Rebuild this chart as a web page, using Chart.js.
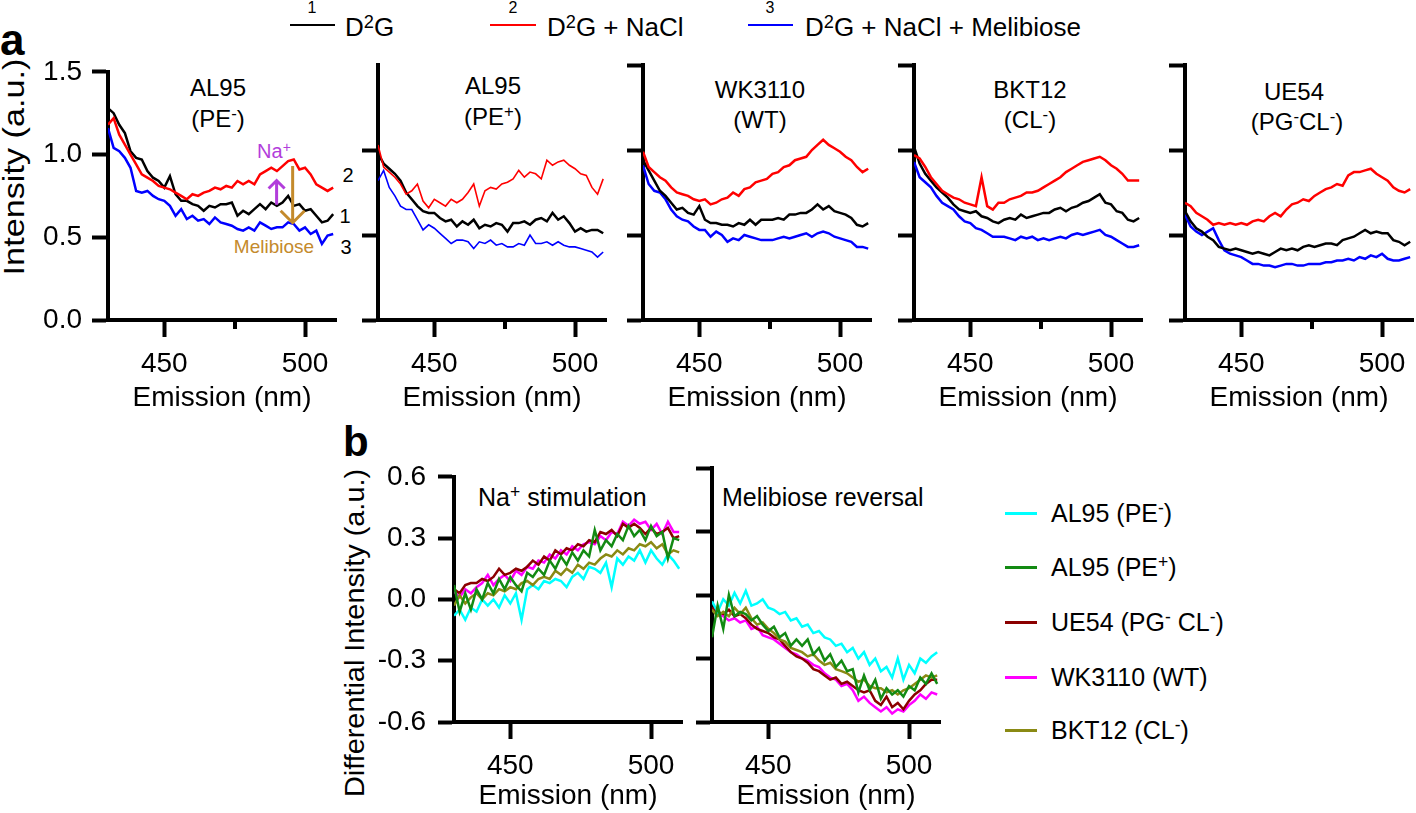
<!DOCTYPE html>
<html>
<head>
<meta charset="utf-8">
<script src="https://cdn.jsdelivr.net/npm/chart.js@4"></script>
<style>
  body { margin: 0; width: 1416px; height: 813px; position: relative; overflow: hidden; background: #fff;
         font-family: "Liberation Sans", Arial, Helvetica, sans-serif; color: #000; }
  canvas { position: absolute; }
  .t { position: absolute; white-space: nowrap; line-height: 1; }
  .c { transform: translate(-50%, -50%); }
  .m { transform: translateY(-50%); }
  .bold { font-weight: bold; }
  .ln { position: absolute; }
  sup { font-size: 0.7em; vertical-align: 0.45em; line-height: 0; }
</style>
</head>
<body>

<div class="t bold" style="left:0px;top:18px;font-size:44px">a</div>
<div class="t bold" style="left:343px;top:421px;font-size:42px">b</div>

<!-- top legend -->
<div class="t c" style="left:312px;top:8px;font-size:16px">1</div>
<div class="ln" style="left:290px;top:24px;width:45px;height:2px;background:#000"></div>
<div class="t m" style="left:345px;top:27px;font-size:26px">D<sup>2</sup>G</div>
<div class="t c" style="left:513px;top:8px;font-size:16px">2</div>
<div class="ln" style="left:490px;top:24px;width:46px;height:2px;background:#f00"></div>
<div class="t m" style="left:547px;top:27px;font-size:26px">D<sup>2</sup>G + NaCl</div>
<div class="t c" style="left:770px;top:8px;font-size:16px">3</div>
<div class="ln" style="left:748px;top:24px;width:45px;height:2px;background:#00f"></div>
<div class="t m" style="left:805px;top:27px;font-size:26px">D<sup>2</sup>G + NaCl + Melibiose</div>

<!-- y titles -->
<div class="t" style="left:14px;top:167px;font-size:29px;transform:translate(-50%,-50%) rotate(-90deg) scaleX(1.18)">Intensity (a.u.)</div>
<div class="t" style="left:355px;top:633px;font-size:28px;transform:translate(-50%,-50%) rotate(-90deg) scaleX(1.03)">Differential Intensity (a.u.)</div>

<!-- panel titles -->
<div class="t c" style="left:218px;top:88px;font-size:24px">AL95</div>
<div class="t c" style="left:218px;top:119px;font-size:24px">(PE<sup>-</sup>)</div>
<div class="t c" style="left:493px;top:86px;font-size:24px">AL95</div>
<div class="t c" style="left:493px;top:117px;font-size:24px">(PE<sup>+</sup>)</div>
<div class="t c" style="left:760px;top:90px;font-size:24px">WK3110</div>
<div class="t c" style="left:760px;top:120px;font-size:24px">(WT)</div>
<div class="t c" style="left:1030px;top:90px;font-size:24px">BKT12</div>
<div class="t c" style="left:1030px;top:120px;font-size:24px">(CL<sup>-</sup>)</div>
<div class="t c" style="left:1294px;top:92px;font-size:24px">UE54</div>
<div class="t c" style="left:1297px;top:122px;font-size:24px">(PG<sup>-</sup>CL<sup>-</sup>)</div>

<!-- panel a1 annotations -->
<div class="t c" style="left:274px;top:151px;font-size:20px;color:#b23ddb">Na<sup>+</sup></div>
<div class="t c" style="left:274px;top:246px;font-size:19px;color:#c48a2c">Melibiose</div>
<div class="t c" style="left:348px;top:175px;font-size:20px">2</div>
<div class="t c" style="left:345px;top:216px;font-size:20px">1</div>
<div class="t c" style="left:346px;top:247px;font-size:20px">3</div>

<!-- panel b titles -->
<div class="t m" style="left:478px;top:497px;font-size:25px">Na<sup>+</sup> stimulation</div>
<div class="t m" style="left:722px;top:497px;font-size:25px">Melibiose reversal</div>

<!-- panel b legend -->
<div class="ln" style="left:1005px;top:512px;width:32px;height:3px;background:#00ffff"></div>
<div class="t m" style="left:1051px;top:513px;font-size:25px">AL95 (PE<sup>-</sup>)</div>
<div class="ln" style="left:1005px;top:566px;width:32px;height:3px;background:#138a13"></div>
<div class="t m" style="left:1051px;top:567px;font-size:25px">AL95 (PE<sup>+</sup>)</div>
<div class="ln" style="left:1005px;top:621px;width:32px;height:3px;background:#8b0000"></div>
<div class="t m" style="left:1051px;top:622px;font-size:25px">UE54 (PG<sup>-</sup> CL<sup>-</sup>)</div>
<div class="ln" style="left:1005px;top:676px;width:32px;height:3px;background:#ff00ff"></div>
<div class="t m" style="left:1051px;top:677px;font-size:25px">WK3110 (WT)</div>
<div class="ln" style="left:1005px;top:729px;width:32px;height:3px;background:#8a8a14"></div>
<div class="t m" style="left:1051px;top:730px;font-size:25px">BKT12 (CL<sup>-</sup>)</div>

<script>
// emission wavelengths (nm)
const nm = [430,432,434,436,438,440,442,444,446,448,450,452,454,456,458,460,462,464,466,468,
            470,472,474,476,478,480,482,484,486,488,490,492,494,496,498,500,502,504,506,508,510];

// panel a: intensity, 1 = D2G (black), 2 = + NaCl (red), 3 = + NaCl + melibiose (blue)
// AL95 (PE-)
const a1Black = [1.28,1.25,1.18,1.13,1.02,0.98,0.97,0.90,0.86,0.84,0.80,0.87,0.76,0.72,0.72,0.70,0.69,0.66,0.69,0.68,
                 0.70,0.70,0.71,0.63,0.66,0.64,0.67,0.70,0.67,0.71,0.69,0.71,0.75,0.69,0.70,0.66,0.67,0.63,0.59,0.60,0.64];
const a1Red   = [1.18,1.22,1.12,1.06,1.00,0.94,0.88,0.86,0.84,0.81,0.80,0.79,0.77,0.75,0.73,0.76,0.75,0.77,0.78,0.80,
                 0.79,0.81,0.80,0.84,0.82,0.84,0.82,0.88,0.90,0.92,0.90,0.93,0.96,0.97,0.91,0.92,0.88,0.82,0.80,0.78,0.80];
const a1Blue  = [1.16,1.04,1.02,0.98,0.92,0.78,0.77,0.78,0.75,0.73,0.72,0.69,0.63,0.67,0.61,0.63,0.60,0.61,0.58,0.62,
                 0.59,0.58,0.57,0.55,0.54,0.56,0.54,0.59,0.57,0.55,0.56,0.56,0.59,0.58,0.54,0.56,0.52,0.54,0.46,0.51,0.52];
// AL95 (PE+)
const a2Black = [0.98,0.92,0.89,0.86,0.82,0.75,0.71,0.67,0.64,0.63,0.63,0.60,0.58,0.59,0.55,0.58,0.56,0.59,0.54,0.56,
                 0.55,0.57,0.56,0.52,0.57,0.57,0.58,0.56,0.59,0.60,0.58,0.63,0.59,0.61,0.57,0.52,0.54,0.52,0.53,0.53,0.51];
const a2Red   = [1.03,0.90,0.87,0.84,0.80,0.74,0.76,0.80,0.70,0.66,0.71,0.69,0.67,0.71,0.69,0.71,0.75,0.80,0.67,0.76,
                 0.78,0.77,0.80,0.81,0.83,0.88,0.84,0.87,0.86,0.83,0.94,0.91,0.93,0.94,0.91,0.89,0.86,0.85,0.78,0.74,0.83];
const a2Blue  = [0.82,0.88,0.78,0.73,0.67,0.65,0.65,0.59,0.53,0.56,0.54,0.51,0.48,0.45,0.47,0.47,0.46,0.42,0.46,0.45,
                 0.47,0.44,0.45,0.43,0.43,0.45,0.44,0.50,0.45,0.45,0.46,0.44,0.46,0.44,0.43,0.43,0.42,0.41,0.40,0.37,0.40];
// WK3110 (WT)
const a3Black = [0.94,0.88,0.82,0.76,0.73,0.69,0.65,0.66,0.63,0.62,0.67,0.59,0.57,0.57,0.56,0.56,0.55,0.57,0.56,0.59,
                 0.56,0.59,0.59,0.59,0.60,0.59,0.62,0.62,0.63,0.63,0.65,0.68,0.65,0.67,0.64,0.63,0.62,0.60,0.56,0.55,0.57];
const a3Red   = [0.99,0.90,0.87,0.84,0.82,0.78,0.75,0.74,0.73,0.71,0.70,0.71,0.68,0.69,0.71,0.72,0.75,0.73,0.77,0.78,
                 0.81,0.82,0.83,0.86,0.87,0.90,0.91,0.94,0.95,0.96,1.00,1.03,1.06,1.03,1.01,0.99,0.96,0.94,0.90,0.87,0.89];
const a3Blue  = [0.91,0.80,0.76,0.75,0.71,0.65,0.61,0.59,0.58,0.55,0.53,0.53,0.49,0.52,0.50,0.46,0.48,0.47,0.50,0.49,
                 0.48,0.47,0.47,0.47,0.48,0.49,0.48,0.49,0.50,0.51,0.49,0.51,0.52,0.51,0.49,0.48,0.47,0.46,0.43,0.43,0.42];
// BKT12 (CL-)
const a4Black = [1.02,0.92,0.86,0.82,0.78,0.75,0.72,0.68,0.65,0.64,0.63,0.64,0.61,0.60,0.58,0.57,0.59,0.60,0.59,0.62,
                 0.60,0.61,0.62,0.63,0.63,0.65,0.66,0.64,0.66,0.67,0.69,0.70,0.72,0.74,0.69,0.68,0.64,0.63,0.59,0.58,0.60];
const a4Red   = [0.97,0.95,0.90,0.84,0.80,0.76,0.74,0.72,0.71,0.69,0.68,0.67,0.84,0.67,0.65,0.69,0.69,0.71,0.72,0.73,
                 0.75,0.75,0.76,0.78,0.80,0.82,0.84,0.87,0.89,0.91,0.93,0.94,0.95,0.96,0.94,0.91,0.89,0.86,0.82,0.82,0.82];
const a4Blue  = [0.93,0.84,0.81,0.78,0.73,0.69,0.67,0.65,0.61,0.58,0.57,0.54,0.53,0.51,0.49,0.49,0.49,0.48,0.47,0.49,
                 0.48,0.49,0.47,0.48,0.47,0.48,0.49,0.48,0.50,0.51,0.50,0.51,0.52,0.53,0.50,0.49,0.47,0.45,0.43,0.43,0.44];
// UE54 (PG-CL-)
const a5Black = [0.64,0.58,0.54,0.52,0.49,0.47,0.43,0.42,0.41,0.42,0.41,0.40,0.39,0.40,0.39,0.38,0.40,0.42,0.41,0.42,
                 0.41,0.43,0.44,0.43,0.44,0.45,0.45,0.44,0.47,0.48,0.49,0.51,0.53,0.51,0.52,0.51,0.51,0.47,0.46,0.44,0.46];
const a5Red   = [0.69,0.67,0.63,0.61,0.59,0.56,0.57,0.56,0.57,0.56,0.57,0.56,0.58,0.59,0.58,0.61,0.63,0.61,0.65,0.68,
                 0.69,0.71,0.70,0.73,0.75,0.77,0.78,0.80,0.79,0.85,0.87,0.87,0.88,0.89,0.86,0.84,0.82,0.78,0.76,0.75,0.77];
const a5Blue  = [0.62,0.55,0.52,0.50,0.52,0.54,0.47,0.41,0.39,0.38,0.37,0.35,0.33,0.33,0.32,0.32,0.31,0.32,0.33,0.33,
                 0.32,0.32,0.33,0.33,0.33,0.34,0.34,0.35,0.35,0.36,0.35,0.37,0.36,0.38,0.37,0.39,0.36,0.35,0.35,0.36,0.37];

// panel b: differential intensity, Na+ stimulation
const b1PEminus = [-0.08,-0.05,-0.10,-0.04,-0.06,0.00,-0.03,0.00,-0.04,0.02,-0.02,0.03,-0.10,0.05,0.07,0.05,0.09,0.08,0.10,0.09,
                   0.06,0.11,0.13,0.10,0.16,0.15,0.13,0.18,0.06,0.20,0.17,0.21,0.19,0.24,0.18,0.24,0.20,0.17,0.22,0.19,0.15];
const b1PEplus  = [0.07,-0.06,0.03,-0.05,0.05,0.00,0.08,0.03,0.10,0.05,0.11,0.07,0.04,0.13,0.11,0.15,0.12,0.19,0.15,0.21,
                   0.17,0.23,0.19,0.24,0.21,0.34,0.24,0.29,0.26,0.32,0.29,0.36,0.31,0.34,0.29,0.36,0.31,0.33,0.20,0.30,0.29];
const b1UE54    = [0.05,0.03,0.07,0.08,0.08,0.10,0.09,0.11,0.15,0.12,0.13,0.15,0.14,0.16,0.19,0.17,0.21,0.19,0.24,0.22,
                   0.25,0.24,0.27,0.26,0.29,0.28,0.33,0.32,0.34,0.31,0.37,0.35,0.37,0.35,0.32,0.35,0.32,0.33,0.35,0.30,0.31];
const b1WK3110  = [0.04,0.01,0.05,0.03,0.06,0.08,0.12,0.07,0.10,0.12,0.09,0.14,0.12,0.16,0.15,0.19,0.18,0.22,0.20,0.24,
                   0.22,0.26,0.24,0.27,0.28,0.27,0.31,0.29,0.33,0.32,0.38,0.36,0.39,0.37,0.38,0.34,0.37,0.32,0.38,0.33,0.33];
const b1BKT12   = [-0.03,0.02,-0.02,0.01,0.03,0.00,0.03,0.02,0.05,0.04,0.06,0.05,0.08,0.09,0.07,0.10,0.11,0.10,0.14,0.12,
                   0.15,0.13,0.17,0.15,0.18,0.17,0.20,0.22,0.21,0.24,0.22,0.25,0.24,0.27,0.26,0.28,0.25,0.27,0.22,0.24,0.23];
// panel b: melibiose reversal
const b2PEminus = [-0.03,-0.08,-0.02,-0.05,0.01,-0.04,0.02,-0.05,-0.04,-0.02,-0.06,-0.07,-0.09,-0.08,-0.12,-0.11,-0.15,-0.14,-0.18,-0.17,
                   -0.20,-0.21,-0.24,-0.23,-0.27,-0.25,-0.30,-0.27,-0.33,-0.30,-0.36,-0.34,-0.39,-0.30,-0.40,-0.33,-0.37,-0.30,-0.32,-0.29,-0.27];
const b2PEplus  = [-0.20,-0.05,-0.16,0.00,-0.10,-0.08,-0.09,-0.12,-0.10,-0.14,-0.17,-0.15,-0.20,-0.18,-0.24,-0.21,-0.24,-0.21,-0.28,-0.25,
                   -0.31,-0.28,-0.34,-0.31,-0.36,-0.35,-0.46,-0.38,-0.45,-0.40,-0.49,-0.44,-0.47,-0.45,-0.48,-0.43,-0.45,-0.39,-0.42,-0.37,-0.42];
const b2UE54    = [-0.06,-0.08,-0.09,-0.07,-0.10,-0.09,-0.11,-0.14,-0.16,-0.17,-0.18,-0.20,-0.21,-0.24,-0.27,-0.29,-0.30,-0.32,-0.35,-0.36,
                   -0.38,-0.40,-0.39,-0.42,-0.41,-0.43,-0.45,-0.46,-0.45,-0.50,-0.52,-0.48,-0.53,-0.51,-0.54,-0.50,-0.47,-0.45,-0.42,-0.40,-0.40];
const b2WK3110  = [-0.07,-0.09,-0.10,-0.12,-0.11,-0.13,-0.12,-0.16,-0.15,-0.19,-0.20,-0.21,-0.23,-0.25,-0.27,-0.28,-0.30,-0.31,-0.33,-0.34,
                   -0.37,-0.39,-0.40,-0.43,-0.42,-0.45,-0.50,-0.48,-0.51,-0.53,-0.55,-0.53,-0.56,-0.54,-0.55,-0.52,-0.50,-0.47,-0.49,-0.46,-0.47];
const b2BKT12   = [-0.07,-0.10,-0.08,-0.10,-0.06,-0.09,-0.06,-0.11,-0.14,-0.13,-0.16,-0.18,-0.21,-0.22,-0.25,-0.26,-0.27,-0.29,-0.28,-0.31,
                   -0.33,-0.32,-0.35,-0.36,-0.37,-0.39,-0.41,-0.40,-0.43,-0.44,-0.44,-0.46,-0.45,-0.47,-0.45,-0.44,-0.42,-0.40,-0.38,-0.39,-0.38];

// tick values
const xTicksA = [450, 475, 500];
const xTicksB = [450, 500];
const yTicksA = [0, 0.5, 1.0, 1.5];
const yTicksA2 = [0, 0.5, 1.0];
const yTicksB = [-0.6, -0.3, 0, 0.3, 0.6];

const FAM = '"Liberation Sans", Arial, Helvetica, sans-serif';
Chart.defaults.font.family = FAM;
Chart.defaults.color = '#000';

// short minor tick at 475 nm under the x axis
function minorTicks(values, len) {
  return {
    id: 'minorTicks',
    afterDraw(chart) {
      const { ctx, chartArea } = chart;
      const x = chart.scales.x;
      ctx.save();
      ctx.strokeStyle = '#000';
      ctx.lineWidth = 4;
      values.forEach(v => {
        const px = Math.round(x.getPixelForValue(v));
        ctx.beginPath();
        ctx.moveTo(px, chartArea.bottom);
        ctx.lineTo(px, chartArea.bottom + len);
        ctx.stroke();
      });
      ctx.restore();
    }
  };
}

// Na+ / melibiose arrows in the first panel
const arrowNa = { x: 489.9, from: 0.696, to: 0.843, color: '#b23ddb', wing: 8 };
const arrowMel = { x: 495.6, from: 0.931, to: 0.588, color: '#c48a2c', wing: 12 };
const arrowPlugin = {
  id: 'arrows',
  afterDatasetsDraw(chart) {
    const { ctx } = chart;
    const { x, y } = chart.scales;
    [arrowNa, arrowMel].forEach(a => {
      const px = x.getPixelForValue(a.x);
      const y0 = y.getPixelForValue(a.from);
      const y1 = y.getPixelForValue(a.to);
      const dir = y1 < y0 ? 1 : -1;
      ctx.save();
      ctx.strokeStyle = a.color;
      ctx.lineWidth = 3;
      ctx.beginPath();
      ctx.moveTo(px, y0);
      ctx.lineTo(px, y1);
      ctx.moveTo(px - a.wing, y1 + dir * a.wing);
      ctx.lineTo(px, y1);
      ctx.lineTo(px + a.wing, y1 + dir * a.wing);
      ctx.stroke();
      ctx.restore();
    });
  }
};

function makePanel(p) {
  const cv = document.createElement('canvas');
  const W = p.axisW + p.plotW + p.padR;
  const H = p.padT + p.plotH + p.xAxisH;
  cv.width = W;
  cv.height = H;
  cv.style.width = W + 'px';
  cv.style.height = H + 'px';
  cv.style.left = (p.left - p.axisW) + 'px';
  cv.style.top = (p.top - p.padT) + 'px';
  document.body.appendChild(cv);

  const plugins = [];
  if (p.minor) plugins.push(minorTicks(p.minor, 9));
  if (p.arrows) plugins.push(arrowPlugin);

  return new Chart(cv, {
    type: 'line',
    data: {
      datasets: p.series.map(s => ({
        data: nm.map((x, i) => ({ x: x, y: s.values[i] })),
        borderColor: s.color,
        borderWidth: s.width || 2.5,
        pointRadius: 0,
        tension: 0,
        fill: false
      }))
    },
    options: {
      responsive: false,
      animation: false,
      devicePixelRatio: 1,
      layout: { padding: { top: p.padT, right: p.padR, left: 0, bottom: 0 } },
      plugins: { legend: { display: false }, tooltip: { enabled: false } },
      scales: {
        x: {
          type: 'linear',
          min: 430,
          max: 511,
          afterBuildTicks: s => { s.ticks = p.xTicks.map(v => ({ value: v })); },
          afterFit: s => { s.height = p.xAxisH; },
          border: { display: true, color: '#000', width: 4 },
          grid: {
            display: true, drawOnChartArea: false, drawTicks: true, color: '#000',
            tickLength: 17, tickWidth: 4,
            tickColor: c => (c.tick && c.tick.value === 475) ? 'rgba(0,0,0,0)' : '#000'
          },
          ticks: {
            font: { size: 28 }, color: '#000', padding: 10, maxRotation: 0,
            callback: v => (v === 475 ? '' : String(v))
          },
          title: {
            display: true, text: 'Emission (nm)', color: '#000',
            font: { size: 28 }, padding: { top: 0, bottom: p.titlePad }
          }
        },
        y: {
          min: p.yMin,
          max: p.yMax,
          afterBuildTicks: s => { s.ticks = p.yTicks.map(v => ({ value: v })); },
          afterFit: s => { s.width = p.axisW; },
          border: { display: true, color: '#000', width: 4 },
          grid: {
            display: true, drawOnChartArea: false, drawTicks: true, color: '#000',
            tickLength: 16, tickWidth: 4
          },
          ticks: {
            display: p.yLabels, font: { size: 28 }, color: '#000', padding: p.yPad,
            callback: v => v.toFixed(1)
          }
        }
      }
    },
    plugins: plugins
  });
}

const topA = 65, plotHA = 255, plotW = 228;
const panelsA = [
  { left: 108, axisW: 108, yLabels: true, yTicks: yTicksA, arrows: true,
    series: [{ values: a1Red, color: '#ff0000' }, { values: a1Black, color: '#000000' }, { values: a1Blue, color: '#0000ff' }] },
  { left: 378, axisW: 20, yLabels: false, yTicks: yTicksA2,
    series: [{ values: a2Red, color: '#ff0000', width: 1.6 }, { values: a2Black, color: '#000000' }, { values: a2Blue, color: '#0000ff', width: 1.6 }] },
  { left: 643, axisW: 20, yLabels: false, yTicks: yTicksA,
    series: [{ values: a3Red, color: '#ff0000' }, { values: a3Black, color: '#000000' }, { values: a3Blue, color: '#0000ff' }] },
  { left: 914, axisW: 20, yLabels: false, yTicks: yTicksA,
    series: [{ values: a4Red, color: '#ff0000' }, { values: a4Black, color: '#000000' }, { values: a4Blue, color: '#0000ff' }] },
  { left: 1185, axisW: 20, yLabels: false, yTicks: yTicksA,
    series: [{ values: a5Red, color: '#ff0000' }, { values: a5Black, color: '#000000' }, { values: a5Blue, color: '#0000ff' }] }
];
panelsA.forEach(p => makePanel(Object.assign({
  top: topA, plotW: plotW, plotH: plotHA, padT: 20, padR: 12, xAxisH: 100, titlePad: 5,
  yMin: 0, yMax: 1.5, yPad: 10, xTicks: xTicksA, minor: [475]
}, p)));

const colPEminus = '#00ffff', colPEplus = '#138a13', colUE54 = '#8b0000', colWK = '#ff00ff', colBKT = '#8a8a14';
const panelsB = [
  { left: 454, axisW: 94, yLabels: true,
    series: [{ values: b1PEplus, color: colPEplus }, { values: b1BKT12, color: colBKT }, { values: b1PEminus, color: colPEminus },
             { values: b1UE54, color: colUE54 }, { values: b1WK3110, color: colWK }] },
  { left: 712, axisW: 20, yLabels: false,
    series: [{ values: b2PEplus, color: colPEplus }, { values: b2BKT12, color: colBKT }, { values: b2PEminus, color: colPEminus },
             { values: b2UE54, color: colUE54 }, { values: b2WK3110, color: colWK }] }
];
panelsB.forEach(p => makePanel(Object.assign({
  top: 468, plotW: plotW, plotH: 254, padT: 20, padR: 8, xAxisH: 91, titlePad: 0,
  yMin: -0.6, yMax: 0.6, yPad: 12, yTicks: yTicksB, xTicks: xTicksB, minor: null
}, p)));
</script>
</body>
</html>
